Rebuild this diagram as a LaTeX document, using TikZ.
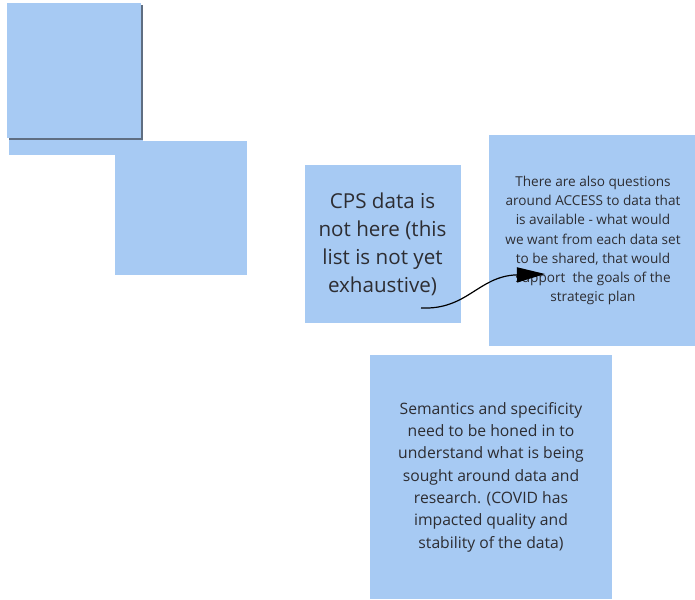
\documentclass[tikz,border=0pt]{standalone}
\usepackage{fontspec}
\setmainfont{Open Sans}
\usetikzlibrary{arrows.meta}
\definecolor{notefill}{RGB}{167,202,243}
\definecolor{notetext}{RGB}{45,45,50}
\definecolor{noteshadow}{RGB}{95,110,130}
\tikzset{
  sticky/.style={fill=notefill, draw=none, inner sep=0pt, align=center, text=notetext},
  link/.style={line width=1.2pt, black, -{Triangle[length=28pt,width=15pt]}}
}
\begin{document}
\begin{tikzpicture}[x=1pt,y=-1pt]
\useasboundingbox (0,0) rectangle (695,599);
% top-left stack
\node[sticky, minimum width=134pt, minimum height=145pt] (back) at (76,82.5) {};
\node[fill=noteshadow, inner sep=0pt, minimum width=134pt, minimum height=135pt] (shadow) at (76,72.5) {};
\node[sticky, minimum width=134pt, minimum height=135pt] (top) at (74,70.5) {};
% second blank note
\node[sticky, minimum width=132pt, minimum height=134pt] (blank) at (180.5,208) {};
% CPS note
\node[sticky, minimum width=156pt, minimum height=158pt,
      font=\fontsize{20.6}{28}\selectfont] (cps) at (382.5,244)
  {CPS data is\\not here (this\\list is not yet\\exhaustive)};
% ACCESS note
\node[sticky, minimum width=208pt, minimum height=211pt,
      font=\fontsize{13.6}{19.3}\selectfont] (access) at (593,240.5)
  {There are also questions\\around ACCESS to data that\\is available - what would\\we want from each data set\\to be shared, that would\\support\ \ the goals of the\\strategic plan};
% Semantics note
\node[sticky, minimum width=242pt, minimum height=244pt,
      font=\fontsize{15.7}{22.3}\selectfont] (sem) at (491,477)
  {Semantics and specificity\\need to be honed in to\\understand what is being\\sought around data and\\research. (COVID has\\impacted quality and\\stability of the data)};
% arrow
\coordinate (a1) at (421,308);
\coordinate (a2) at (545,274);
\draw[link] (a1) .. controls (468,310) and (478,276) .. (a2);
\end{tikzpicture}
\end{document}
